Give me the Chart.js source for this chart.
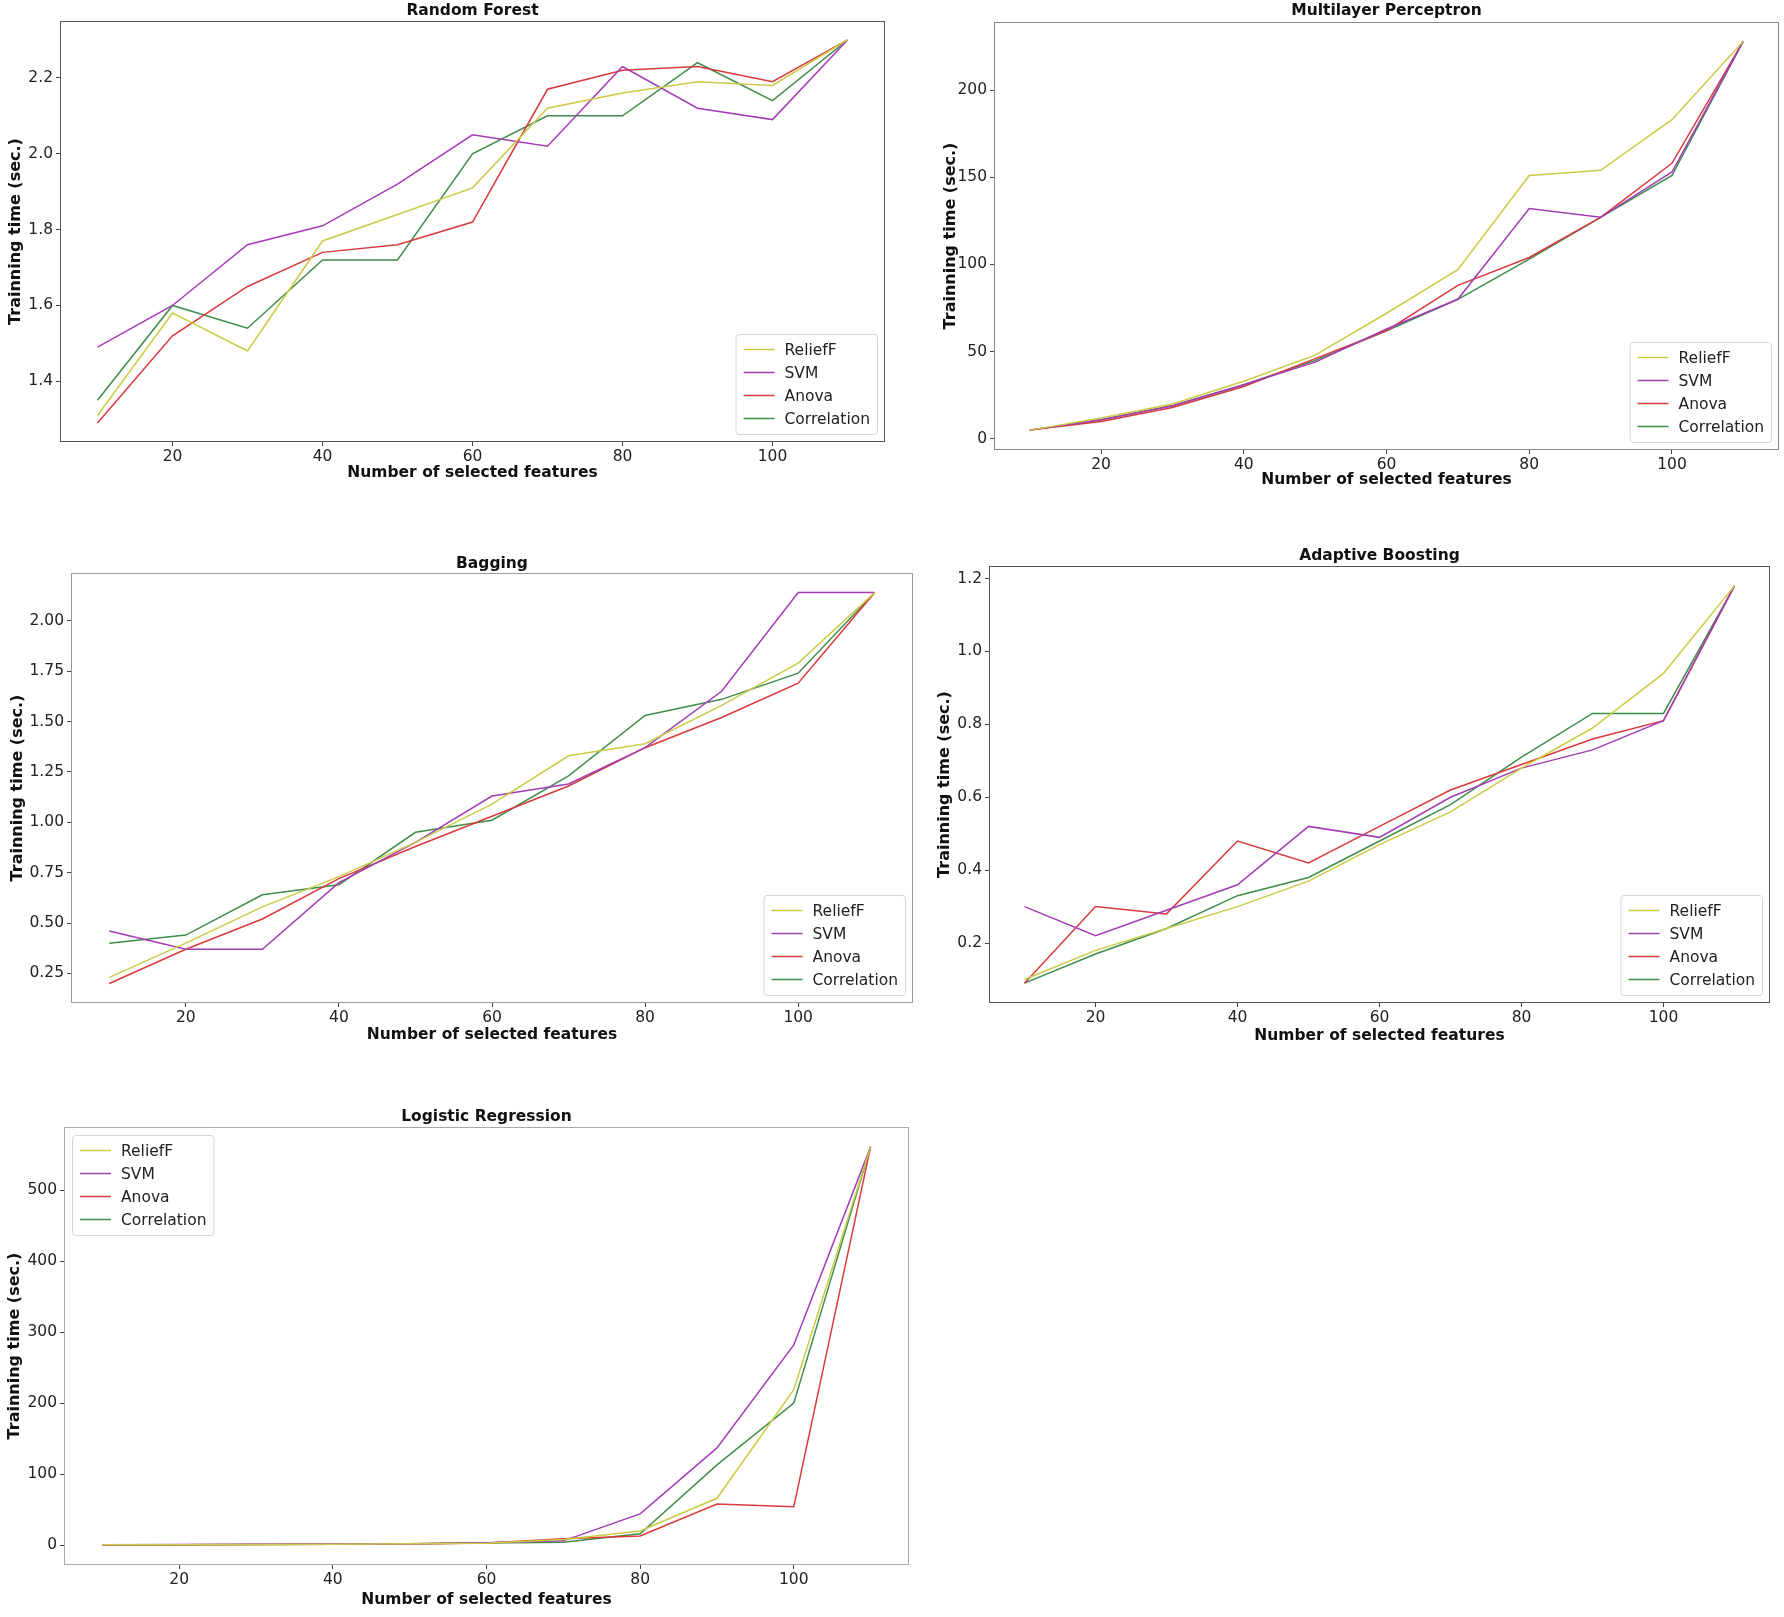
<!DOCTYPE html>
<html>
<head>
<meta charset="utf-8">
<title>Training time vs number of selected features</title>
<script src="https://cdn.jsdelivr.net/npm/chart.js@4.4.1/dist/chart.umd.min.js"></script>
<style>
  body { margin: 0; background: #fff; width: 1784px; height: 1617px; overflow: hidden; position: relative; }
  canvas { position: absolute; }
</style>
</head>
<body>
<canvas id="rf"></canvas>
<canvas id="mlp"></canvas>
<canvas id="bag"></canvas>
<canvas id="ada"></canvas>
<canvas id="lr"></canvas>

<script>
// number of selected features (x values)
const features = [10, 20, 30, 40, 50, 60, 70, 80, 90, 100, 110];
const xTicks = ["20", "40", "60", "80", "100"];
const methods = ["ReliefF", "SVM", "Anova", "Correlation"];

// Random Forest
const rfRelief = [1.31, 1.58, 1.48, 1.77, 1.84, 1.91, 2.12, 2.16, 2.19, 2.18, 2.30];
const rfSvm    = [1.49, 1.60, 1.76, 1.81, 1.92, 2.05, 2.02, 2.23, 2.12, 2.09, 2.30];
const rfAnova  = [1.29, 1.52, 1.65, 1.74, 1.76, 1.82, 2.17, 2.22, 2.23, 2.19, 2.30];
const rfCorr   = [1.35, 1.60, 1.54, 1.72, 1.72, 2.00, 2.10, 2.10, 2.24, 2.14, 2.30];
const rfYTicks = ["1.4", "1.6", "1.8", "2.0", "2.2"];

// Multilayer Perceptron
const mlpRelief = [5, 12, 20, 33, 48, 72, 97, 151, 154, 183, 228];
const mlpSvm    = [5, 11, 19, 31, 44, 63, 80, 132, 127, 153, 228];
const mlpAnova  = [5, 10, 18, 30, 46, 62, 88, 104, 127, 158, 228];
const mlpCorr   = [5, 11, 19, 31, 45, 62, 80, 103, 127, 151, 228];
const mlpYTicks = ["0", "50", "100", "150", "200"];

// Bagging
const bagRelief = [0.23, 0.40, 0.58, 0.73, 0.90, 1.09, 1.33, 1.39, 1.58, 1.79, 2.14];
const bagSvm    = [0.46, 0.37, 0.37, 0.70, 0.90, 1.13, 1.19, 1.37, 1.65, 2.14, 2.14];
const bagAnova  = [0.20, 0.37, 0.52, 0.72, 0.88, 1.03, 1.18, 1.37, 1.52, 1.69, 2.14];
const bagCorr   = [0.40, 0.44, 0.64, 0.69, 0.95, 1.01, 1.23, 1.53, 1.61, 1.74, 2.14];
const bagYTicks = ["0.25", "0.50", "0.75", "1.00", "1.25", "1.50", "1.75", "2.00"];

// Adaptive Boosting
const adaRelief = [0.10, 0.18, 0.24, 0.30, 0.37, 0.47, 0.56, 0.68, 0.79, 0.94, 1.18];
const adaSvm    = [0.30, 0.22, 0.29, 0.36, 0.52, 0.49, 0.60, 0.68, 0.73, 0.81, 1.18];
const adaAnova  = [0.09, 0.30, 0.28, 0.48, 0.42, 0.52, 0.62, 0.69, 0.76, 0.81, 1.18];
const adaCorr   = [0.09, 0.17, 0.24, 0.33, 0.38, 0.48, 0.58, 0.71, 0.83, 0.83, 1.18];
const adaYTicks = ["0.2", "0.4", "0.6", "0.8", "1.0", "1.2"];

// Logistic Regression
const lrRelief = [0.4, 0.7, 1.0, 1.3, 1.8, 2.8, 8, 20, 66, 219, 561];
const lrSvm    = [0.5, 0.8, 1.1, 1.5, 2.0, 3.2, 6, 44, 137, 282, 561];
const lrAnova  = [0.3, 0.6, 0.9, 1.2, 1.7, 3.0, 9, 13, 58, 54, 561];
const lrCorr   = [0.4, 0.7, 1.0, 1.4, 1.9, 3.1, 4, 16, 113, 200, 561];
const lrYTicks = ["0", "100", "200", "300", "400", "500"];

const colors = ["#cbcb45", "#a43cb6", "#d93a3c", "#3f8c4c"];
const FONT = '"DejaVu Sans", "Liberation Sans", sans-serif';

// frame round the plot area, title over its centre, legend inside it
const framePlugin = {
    id: "frame",
    afterDraw(chart, args, opts) {
        const ctx = chart.ctx;
        const a = chart.chartArea;
        ctx.save();
        ctx.strokeStyle = opts.color;
        ctx.lineWidth = 1;
        ctx.strokeRect(Math.round(a.left) + 0.5, Math.round(a.top) + 0.5,
            Math.round(a.width) - 1, Math.round(a.height) - 1);

        ctx.fillStyle = "#111";
        ctx.font = "bold 15.5px " + FONT;
        ctx.textAlign = "center";
        ctx.textBaseline = "middle";
        ctx.fillText(opts.title, (a.left + a.right) / 2, a.top - opts.titleGap);

        // legend
        ctx.font = "15.5px " + FONT;
        const sets = chart.data.datasets;
        const textW = Math.max(...sets.map(d => ctx.measureText(d.label).width));
        const rowH = 23;
        const w = 49 + textW + 7;
        const h = rowH * sets.length + 8;
        const x = opts.legend === "ul" ? a.left + 8 : a.right - 8 - w;
        const y = opts.legend === "ul" ? a.top + 8 : a.bottom - 8 - h;
        ctx.beginPath();
        ctx.roundRect(x + 0.5, y + 0.5, w, h, 3);
        ctx.fillStyle = "rgba(255,255,255,0.85)";
        ctx.fill();
        ctx.strokeStyle = "#d6d6d6";
        ctx.stroke();
        ctx.textAlign = "left";
        sets.forEach((d, i) => {
            const cy = y + 4 + rowH * i + rowH / 2;
            ctx.beginPath();
            ctx.moveTo(x + 8, cy);
            ctx.lineTo(x + 39, cy);
            ctx.strokeStyle = d.borderColor;
            ctx.lineWidth = 1.5;
            ctx.stroke();
            ctx.fillStyle = "#222";
            ctx.fillText(d.label, x + 49, cy + 1);
        });
        ctx.restore();
    }
};

function makeChart(id, p) {
    const canvas = document.getElementById(id);
    canvas.width = p.box[2];
    canvas.height = p.box[3];
    canvas.style.left = p.box[0] + "px";
    canvas.style.top = p.box[1] + "px";

    const tickFont = { family: FONT, size: 15.5 };
    const xTitleFont = { family: FONT, size: 15.5, weight: "bold" };
    const yTitleFont = { family: FONT, size: 16, weight: "bold" };

    new Chart(canvas, {
        type: "line",
        data: {
            datasets: p.series.map((vals, i) => ({
                label: methods[i],
                data: features.map((x, j) => ({ x, y: vals[j] })),
                borderColor: colors[i],
                borderWidth: 1.5,
                pointRadius: 0,
                fill: false,
                tension: 0
            }))
        },
        options: {
            responsive: false,
            animation: false,
            devicePixelRatio: 1,
            layout: { padding: { top: p.padTop, right: 0, left: 0, bottom: 0 } },
            plugins: {
                legend: { display: false },
                tooltip: { enabled: false },
                frame: { color: p.frameColor, title: p.title, titleGap: p.titleGap, legend: p.legend }
            },
            scales: {
                x: {
                    type: "linear",
                    min: 5,
                    max: 115,
                    afterBuildTicks: ax => { ax.ticks = xTicks.map(v => ({ value: Number(v) })); },
                    afterFit: s => { s.height = p.xH; },
                    ticks: { font: tickFont, color: "#222", padding: 2, maxRotation: 0, callback: (v, i) => xTicks[i] },
                    grid: { drawOnChartArea: false, tickLength: 4, color: "#444" },
                    border: { display: false },
                    title: { display: true, text: "Number of selected features", font: xTitleFont, color: "#111", padding: 0 }
                },
                y: {
                    type: "linear",
                    min: p.yMin,
                    max: p.yMax,
                    afterBuildTicks: ax => { ax.ticks = p.yTicks.map(v => ({ value: Number(v) })); },
                    afterFit: s => { s.width = p.yW; },
                    ticks: { font: tickFont, color: "#222", padding: 3, callback: (v, i) => p.yTicks[i] },
                    grid: { drawOnChartArea: false, tickLength: 4, color: "#444" },
                    border: { display: false },
                    title: { display: true, text: "Trainning time (sec.)", font: yTitleFont, color: "#111", padding: 0 }
                }
            }
        },
        plugins: [framePlugin]
    });
}

makeChart("rf", {
    title: "Random Forest", series: [rfRelief, rfSvm, rfAnova, rfCorr], yTicks: rfYTicks,
    yMin: 1.24, yMax: 2.35, box: [6, 0, 879, 482], padTop: 21, yW: 54, xH: 40, titleGap: 10,
    frameColor: "#555", legend: "lr"
});
makeChart("mlp", {
    title: "Multilayer Perceptron", series: [mlpRelief, mlpSvm, mlpAnova, mlpCorr], yTicks: mlpYTicks,
    yMin: -6.4, yMax: 239, box: [941, 0, 838, 489], padTop: 22, yW: 53, xH: 39, titleGap: 11,
    frameColor: "#888", legend: "lr"
});
makeChart("bag", {
    title: "Bagging", series: [bagRelief, bagSvm, bagAnova, bagCorr], yTicks: bagYTicks,
    yMin: 0.103, yMax: 2.237, box: [8, 540, 905, 504], padTop: 33, yW: 63, xH: 41, titleGap: 9,
    frameColor: "#999", legend: "lr"
});
makeChart("ada", {
    title: "Adaptive Boosting", series: [adaRelief, adaSvm, adaAnova, adaCorr], yTicks: adaYTicks,
    yMin: 0.0355, yMax: 1.2345, box: [935, 540, 835, 505], padTop: 26, yW: 54, xH: 42, titleGap: 10,
    frameColor: "#555", legend: "lr"
});
makeChart("lr", {
    title: "Logistic Regression", series: [lrRelief, lrSvm, lrAnova, lrCorr], yTicks: lrYTicks,
    yMin: -28, yMax: 589, box: [5, 1100, 904, 509], padTop: 27, yW: 59, xH: 44, titleGap: 10,
    frameColor: "#aaa", legend: "ul"
});
</script>
</body>
</html>
